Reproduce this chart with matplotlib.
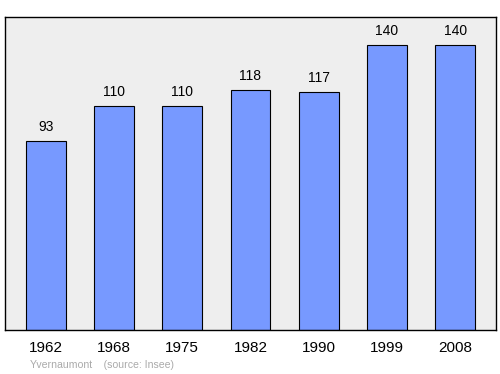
import matplotlib
matplotlib.use("Agg")
import matplotlib.pyplot as plt

plt.rcParams["font.family"] = ["Liberation Sans", "DejaVu Sans"]

years = ["1962", "1968", "1975", "1982", "1990", "1999", "2008"]
population = [93, 110, 110, 118, 117, 140, 140]

fig = plt.figure(figsize=(5, 3.74), dpi=100)
ax = fig.add_axes([5/500, 1 - 330/374, 491/500, 313/374])
ax.set_facecolor("#eeeeee")
x = list(range(len(years)))
ax.bar(x, population, width=0.585, color="#7799ff", edgecolor="black", linewidth=0.8)
for xi, v in zip(x, population):
    ax.text(xi, v + 6.8, str(v), ha="center", va="center", fontsize=10)
ax.set_xlim(-0.6, 6.6)
ax.set_ylim(0, 153.7)
ax.set_yticks([])
ax.set_xticks(x)
ax.set_xticklabels(years, fontsize=11)
ax.tick_params(axis="x", length=0, pad=8)
for s in ax.spines.values():
    s.set_linewidth(1.0)
fig.text(30/500, 1 - 365/374, "Yvernaumont    (source: Insee)", fontsize=7.6,
         color="#aaaaaa", ha="left", va="center")
fig.savefig("out.png", dpi=100)
